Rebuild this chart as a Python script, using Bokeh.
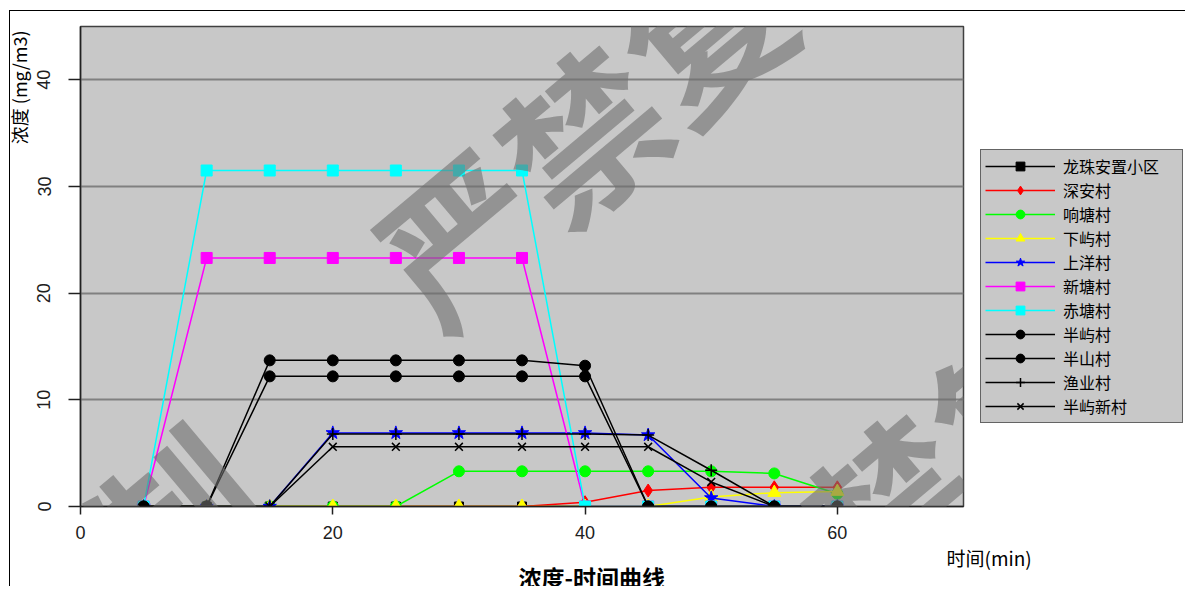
import math
from bokeh.plotting import figure
from bokeh.models import Legend, LegendItem, Label, FixedTicker, Range1d, Title, InlineStyleSheet
from bokeh.embed import file_html
from bokeh.resources import INLINE

# ---- data ----
minutes = [5, 10, 15, 20, 25, 30, 35, 40, 45, 50, 55, 60]
names = ["龙珠安置小区", "深安村", "响塘村", "下屿村", "上洋村", "新塘村",
         "赤塘村", "半屿村", "半山村", "渔业村", "半屿新村"]
longzhu = [0, 0, 0, 0, 0, 0, 0, 0, 0, 0, 0, 0]
shenan = [0, 0, 0, 0, 0, 0, 0, 0.4, 1.5, 1.8, 1.8, 1.8]
xiangtang = [0, 0, 0, 0, 0, 3.3, 3.3, 3.3, 3.3, 3.3, 3.1, 1.2]
xiayu = [0, 0, 0, 0, 0, 0, 0, 0, 0, 0.9, 1.3, 1.4]
shangyang = [0, 0, 0, 6.9, 6.9, 6.9, 6.9, 6.9, 6.7, 0.8, 0, 0]
xintang = [0, 23.3, 23.3, 23.3, 23.3, 23.3, 23.3, 0, 0, 0, 0, 0]
chitang = [0, 31.5, 31.5, 31.5, 31.5, 31.5, 31.5, 0, 0, 0, 0, 0]
banyu = [0, 0, 13.7, 13.7, 13.7, 13.7, 13.7, 13.2, 0, 0, 0, 0]
banshan = [0, 0, 12.2, 12.2, 12.2, 12.2, 12.2, 12.2, 0, 0, 0, 0]
yuye = [0, 0, 0, 6.8, 6.8, 6.8, 6.8, 6.8, 6.7, 3.4, 0, 0]
banyuxin = [0, 0, 0, 5.6, 5.6, 5.6, 5.6, 5.6, 5.6, 2.3, 0, 0]
series = [longzhu, shenan, xiangtang, xiayu, shangyang, xintang,
          chitang, banyu, banshan, yuye, banyuxin]
x_ticks = [0, 20, 40, 60]
y_ticks = [0, 10, 20, 30, 40]

# ---- styles ----
colors = ["black", "#ff0000", "#00ff00", "#ffff00", "#0000ff", "#ff00ff",
          "#00ffff", "black", "black", "black", "black"]
markers = ["square", "diamond", "circle", "triangle", "star", "square",
           "square", "circle", "circle", "cross", "x"]
msizes = [9, 13, 11, 13, 14, 11, 11, 11, 11, 12, 11]

CJK = "Noto Sans CJK SC"
LAT = "Liberation Sans"

p = figure(frame_width=883, frame_height=480, x_range=Range1d(0, 70), y_range=Range1d(0, 45),
           output_backend="svg", toolbar_location=None,
           min_border_left=80, min_border_right=222, min_border_top=26, min_border_bottom=80)
p.stylesheets = [InlineStyleSheet(css=(
    ":host::after { content: ''; position: absolute; left: 9px; top: 10px; "
    "right: 0px; bottom: 0px; border-left: 1px solid #000; border-top: 1px solid #000; "
    "pointer-events: none; z-index: 10; }"))]
p.background_fill_color = "#c8c8c8"
p.border_fill_color = "white"
p.outline_line_color = "#404040"
p.outline_line_width = 1.5

p.xgrid.visible = False
p.ygrid.ticker = FixedTicker(ticks=[10, 20, 30, 40])
p.ygrid.grid_line_color = "#808080"
p.ygrid.grid_line_width = 2

p.xaxis.ticker = FixedTicker(ticks=x_ticks)
p.yaxis.ticker = FixedTicker(ticks=y_ticks)
for ax in (p.xaxis[0], p.yaxis[0]):
    ax.axis_line_color = "#202020"
    ax.axis_line_width = 1.5
    ax.major_tick_in = 0
    ax.minor_tick_line_color = None
    ax.major_tick_line_color = "#202020"
    ax.major_tick_line_width = 1.5
    ax.major_label_text_font = LAT
    ax.major_label_text_font_size = "18px"
    ax.major_label_text_color = "#202020"
p.xaxis.major_tick_out = 8
p.xaxis.major_label_standoff = 11
p.yaxis.major_tick_out = 12
p.yaxis.major_label_orientation = "vertical"
p.yaxis.major_label_standoff = 18

items = []
for name, vals, c, m, s in zip(names, series, colors, markers, msizes):
    lr = p.line(minutes, vals, line_color=c, line_width=1.5)
    sr = p.scatter(minutes, vals, marker=m, size=s, fill_color=c,
                   line_color=c, line_width=1.5 if m in ("cross", "x") else 1)
    items.append(LegendItem(label=name, renderers=[lr, sr]))

legend = Legend(items=items, location=(17, 83))
legend.background_fill_color = "#c8c8c8"
legend.background_fill_alpha = 1
legend.border_line_color = "black"
legend.border_line_width = 1.5
legend.label_text_font = CJK
legend.label_text_font_size = "16px"
legend.label_text_color = "black"
legend.glyph_width = 70
legend.glyph_height = 22
legend.label_height = 16
legend.label_width = 115
legend.spacing = 0
legend.padding = 4
legend.margin = 0
legend.label_standoff = 8
p.add_layout(legend, "right")

# axis titles & chart title (side panels, not clipped)
ytitle = Title(text="浓度 (mg/m3)", align="right", offset=4,
               text_font=CJK, text_font_size="18px", text_font_style="normal",
               text_color="black", standoff=5)
p.add_layout(ytitle, "left")
xtitle = Title(text="时间(min)", align="left", offset=866,
               text_font=CJK, text_font_size="19px", text_font_style="normal",
               text_color="black", standoff=0)
p.add_layout(xtitle, "below")
main_title = Title(text="浓度-时间曲线", align="left", offset=438,
                   text_font=CJK, text_font_size="23px", text_font_style="bold",
                   text_color="black", standoff=-26)
p.add_layout(main_title, "below")

# watermark (inside plot area)
for wx, wy in [(44.4, 40.1), (68.75, 5.53), (-7.5, -15.0)]:
    p.add_layout(Label(x=wx, y=wy, text="严禁复制", angle=math.radians(40),
                       text_align="center", text_baseline="middle",
                       text_font=CJK, text_font_size="160px",
                       text_font_style="bold", text_color="#707070",
                       text_alpha=0.6))

open("out.html", "w").write(file_html(p, INLINE))
